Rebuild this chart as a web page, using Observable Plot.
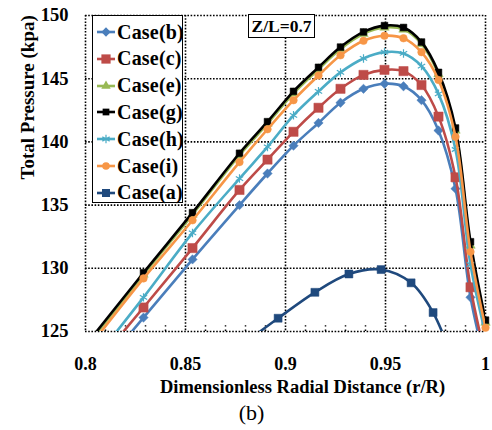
<!DOCTYPE html>
<html><head><meta charset="utf-8">
<script src="https://cdn.jsdelivr.net/npm/d3@7"></script>
<script src="https://cdn.jsdelivr.net/npm/@observablehq/plot@0.6"></script>
<style>
body{margin:0;background:#fff;}
#wrap{position:relative;width:492px;height:430px;font-family:"Liberation Serif","Times New Roman",serif;}
#legend{position:absolute;left:92px;top:15px;width:89px;height:186px;border:1.5px solid #000;background:#fff;box-sizing:content-box;}
.lrow{position:absolute;left:0;height:26px;display:flex;align-items:center;font-weight:bold;font-size:20px;white-space:nowrap;letter-spacing:0.2px;}
.lrow svg{margin-left:4px;margin-right:2px;}
#zl{position:absolute;left:248px;top:14px;width:65px;height:22px;border:1.5px solid #000;background:#fff;font-weight:bold;font-size:17.5px;text-align:center;line-height:22px;}
</style></head><body><div id="wrap"></div>
<script>
// shared radial positions (r/R)
const xGrid = [0.8, 0.829, 0.8535, 0.877, 0.891, 0.904, 0.9165, 0.9275, 0.939, 0.9495, 0.959, 0.968, 0.9765, 0.985, 0.9925, 1.0];
const caseB = [120.6,126.1,130.7,135.0,137.5,139.7,141.5,143.1,144.2,144.6,144.4,143.3,140.9,136.3,127.7,122.5];
const caseC = [121.4,126.9,131.6,136.2,138.6,140.8,142.7,144.2,145.3,145.7,145.6,144.5,142.0,137.2,128.5,123.0];
const caseE = [123.75,129.5,134.25,138.95,141.45,143.85,145.75,147.35,148.55,149.05,148.9,147.75,145.35,140.9,131.8,125.7];
const caseG = [123.9,129.65,134.4,139.1,141.6,144.0,145.9,147.5,148.7,149.2,149.05,147.9,145.5,141.1,132.1,125.9];
const caseH = [121.9,127.7,132.8,137.1,139.6,142.1,144.0,145.5,146.6,147.1,147.0,146.0,143.8,139.4,130.3,124.8];
const caseI = [123.4,129.2,133.8,138.4,141.0,143.3,145.25,146.85,148.0,148.4,148.2,147.1,144.9,140.4,131.3,125.3];
// case (a) radial positions
const xA = [0.878, 0.8963, 0.9147, 0.9317, 0.9478, 0.9628, 0.9738, 0.983];
const caseA = [123.9, 126.05, 128.1, 129.55, 129.9, 128.85, 126.5, 123.0];

const xTicks = [0.8, 0.85, 0.9, 0.95, 1];
const yTicks = [125, 130, 135, 140, 145, 150];
const xMinor = [0.81,0.82,0.83,0.84,0.86,0.87,0.88,0.89,0.91,0.92,0.93,0.94,0.96,0.97,0.98,0.99];

const series = [
  {name:"Case(b)", x:xGrid, y:caseB, color:"#4A7EBB", symbol:"diamond2", r:4.2},
  {name:"Case(c)", x:xGrid, y:caseC, color:"#BE4B48", symbol:"square", r:5.2},
  {name:"Case(e)", x:xGrid, y:caseE, color:"#98B954", symbol:"triangle", r:3.5},
  {name:"Case(g)", x:xGrid, y:caseG, color:"#000000", symbol:"square", r:3.8},
  {name:"Case(h)", x:xGrid, y:caseH, color:"#4BACC6", symbol:"asterisk", r:4},
  {name:"Case(i)", x:xGrid, y:caseI, color:"#F79646", symbol:"circle", r:3.8},
  {name:"Case(a)", x:xA, y:caseA, color:"#1F497D", symbol:"square", r:4.5}
];

const marks = [
  Plot.gridX(xTicks, {stroke:"#000", strokeOpacity:1, strokeWidth:1.6, strokeDasharray:"1.6,1.6"}),
  Plot.gridY(yTicks, {stroke:"#000", strokeOpacity:1, strokeWidth:1.6, strokeDasharray:"1.6,1.6"}),
  Plot.ruleX(xMinor, {y1:125, y2:125.45, stroke:"#000", strokeWidth:1.5, strokeDasharray:"1.5,3"}),
  Plot.axisX(xTicks, {tickSize:0, tickPadding:26, tickFormat:d=>String(d), fontSize:18, fontWeight:"bold", label:null}),
  Plot.axisY(yTicks, {tickSize:0, tickPadding:17, fontSize:18.5, fontWeight:"bold", label:null})
];
for (const s of series) {
  const data = s.y.map((v,i)=>({x:s.x[i], y:v}));
  marks.push(Plot.line(data, {x:"x", y:"y", stroke:s.color, strokeWidth:2.6, curve:"catmull-rom", clip:"frame"}));
  const vis = data.filter(d => d.y >= 125 && d.y <= 150);
  if (s.symbol === "asterisk") {
    marks.push(Plot.dot(vis, {x:"x", y:"y", symbol:"asterisk", r:s.r, stroke:s.color, strokeWidth:1.2, fill:"none"}));
  } else {
    marks.push(Plot.dot(vis, {x:"x", y:"y", symbol:s.symbol, r:s.r, fill:s.color, stroke:s.color, strokeWidth:0.5}));
  }
}
marks.push(Plot.text(["Total Pressure (kpa)"], {text:d=>d, frameAnchor:"left", dx:-58, dy:6, rotate:-90, fontSize:19, fontWeight:"bold"}));
marks.push(Plot.text(["Dimensionless Radial Distance (r/R)"], {text:d=>d, frameAnchor:"bottom", dx:17, dy:61, fontSize:18.5, fontWeight:"bold"}));
marks.push(Plot.text(["(b)"], {text:d=>d, frameAnchor:"bottom", dx:-34, dy:88, fontSize:22, fontWeight:"normal"}));

const chart = Plot.plot({
  width:492, height:430,
  marginLeft:85, marginRight:7, marginTop:15, marginBottom:99,
  x:{domain:[0.8,1]},
  y:{domain:[125,150]},
  style:{fontFamily:"'Liberation Serif','Times New Roman',serif", fontSize:"19px", fontWeight:"bold", color:"#000", background:"#fff", overflow:"visible"},
  marks
});
const wrap = document.getElementById("wrap");
wrap.appendChild(chart);

// legend
const legend = document.createElement("div");
legend.id = "legend";
const order = ["Case(b)","Case(c)","Case(e)","Case(g)","Case(h)","Case(i)","Case(a)"];
order.forEach((name, i) => {
  const s = series.find(t=>t.name===name);
  const row = document.createElement("div");
  row.className = "lrow";
  row.style.top = (3 + i*26.8) + "px";
  const ns = "http://www.w3.org/2000/svg";
  const svg = document.createElementNS(ns, "svg");
  svg.setAttribute("width", 18); svg.setAttribute("height", 14);
  const ln = document.createElementNS(ns, "line");
  ln.setAttribute("x1",0); ln.setAttribute("x2",18); ln.setAttribute("y1",7); ln.setAttribute("y2",7);
  ln.setAttribute("stroke", s.color); ln.setAttribute("stroke-width", 2.6);
  svg.appendChild(ln);
  const symMap = {diamond2:d3.symbolDiamond2, square:d3.symbolSquare, triangle:d3.symbolTriangle, circle:d3.symbolCircle, asterisk:d3.symbolAsterisk};
  const p = document.createElementNS(ns, "path");
  p.setAttribute("d", d3.symbol(symMap[s.symbol], Math.PI*s.r*s.r)());
  p.setAttribute("transform", "translate(9,7)");
  if (s.symbol === "asterisk") { p.setAttribute("fill","none"); p.setAttribute("stroke", s.color); p.setAttribute("stroke-width",1.2); }
  else { p.setAttribute("fill", s.color); }
  svg.appendChild(p);
  row.appendChild(svg);
  const t = document.createElement("span");
  t.textContent = name;
  row.appendChild(t);
  legend.appendChild(row);
});
wrap.appendChild(legend);

const zl = document.createElement("div");
zl.id = "zl";
zl.textContent = "Z/L=0.7";
wrap.appendChild(zl);
</script>
</body></html>
